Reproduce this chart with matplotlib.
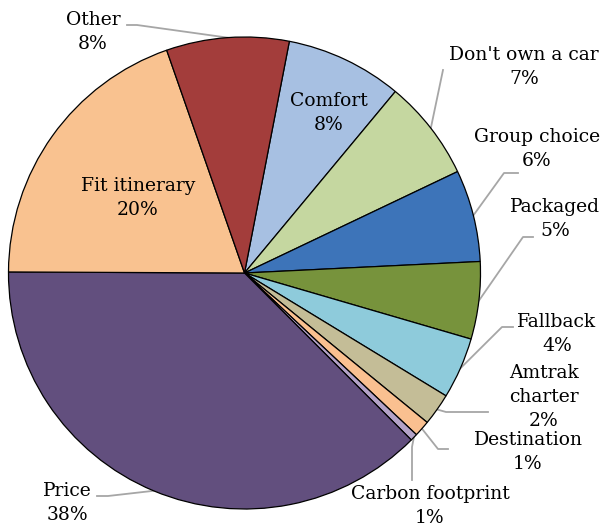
import matplotlib
matplotlib.use("Agg")
import matplotlib.pyplot as plt
import numpy as np

categories = ["Comfort", "Don't own a car", "Group choice", "Packaged", "Fallback",
              "Amtrak\ncharter", "Destination", "Carbon footprint", "Price",
              "Fit itinerary", "Other"]
values = [8.0, 6.9, 6.3, 5.3, 4.2, 2.2, 1.1, 0.5, 37.6, 19.6, 8.4]
pct_labels = ["8%", "7%", "6%", "5%", "4%", "2%", "1%", "1%", "38%", "20%", "8%"]
colors = ["#A7C0E2", "#C5D7A0", "#3D74B9", "#77933C", "#8ECBDB", "#C4BD97",
          "#FAC090", "#B3A2C7", "#624F7E", "#F9C290", "#A33D3B"]

# pixel geometry of the reference
W, H = 605, 531
CX, CY, R = 244.5, 273.0, 236.0


def px(x, y):
    return (x - CX) / R, (CY - y) / R


# label centres (px) and leader start paths (px); None means label inside slice
label_pos = [(329, 113), (524, 67), (537, 149), (555, 219), (557, 334),
             (544, 397), (528, 452), (430, 506), (67, 503), (138, 198), (93, 32)]
leader_paths = [None,
                [(443, 70)],
                [(518, 173), (504, 173)],
                [(533, 237), (523, 237)],
                [(513, 327), (502, 327)],
                [(488, 412), (446, 412)],
                [(448, 449), (438, 449)],
                [(412, 480), (412, 447)],
                [(97, 496), (108, 496)],
                None,
                [(127, 25), (137, 25)]]

fig = plt.figure(figsize=(W / 100, H / 100), dpi=100)
ax = fig.add_axes((0, 0, 1, 1))
start = 90 - 10.96
wedges, _ = ax.pie(values, colors=colors, startangle=start, counterclock=False,
                   radius=1, center=(0, 0),
                   wedgeprops=dict(edgecolor="black", linewidth=0.9))
ax.set_xlim(px(0, 0)[0], px(W, 0)[0])
ax.set_ylim(px(0, H)[1], px(0, 0)[1])
ax.set_aspect("auto")
ax.axis("off")

font = dict(family="DejaVu Serif", fontsize=13.5, color="black")
for w, cat, pct, pos, path in zip(wedges, categories, pct_labels, label_pos, leader_paths):
    tx, ty = px(*pos)
    ax.text(tx, ty, f"{cat}\n{pct}", ha="center", va="center", linespacing=1.42, **font)
    if path is None:
        continue
    mid = np.deg2rad((w.theta1 + w.theta2) / 2)
    pts = [px(*p) for p in path] + [(np.cos(mid), np.sin(mid))]
    xs, ys = zip(*pts)
    ax.plot(xs, ys, color="#A6A6A6", linewidth=1.3, zorder=0.5)

fig.savefig("out.png", dpi=100)
